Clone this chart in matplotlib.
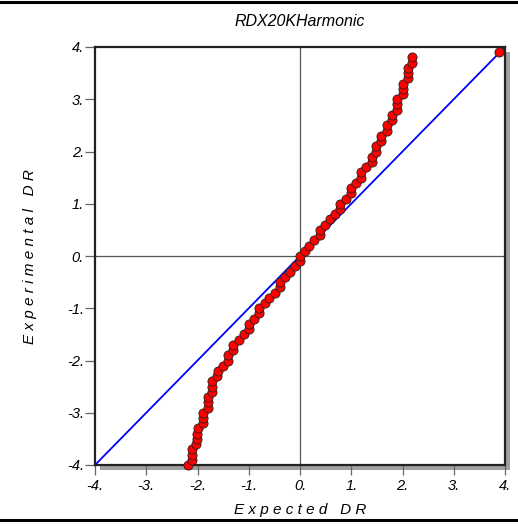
import matplotlib
matplotlib.use("Agg")
import matplotlib.pyplot as plt
from matplotlib.patches import Rectangle
from matplotlib.lines import Line2D

expected_dr = [-2.19, -2.10, -2.10, -2.10, -2.02, -2.01, -2.01, -2.00,
               -1.90, -1.90, -1.89, -1.80, -1.80, -1.80, -1.71, -1.71,
               -1.71, -1.61, -1.60, -1.50, -1.41, -1.41, -1.30, -1.30,
               -1.20, -1.10, -1.00, -1.00, -0.90, -0.80, -0.80, -0.69,
               -0.60, -0.49, -0.40, -0.40, -0.29, -0.19, -0.09, 0.00,
               0.00, 0.09, 0.18, 0.28, 0.39, 0.39, 0.49, 0.59,
               0.69, 0.79, 0.79, 0.90, 0.99, 0.99, 1.09, 1.19,
               1.19, 1.29, 1.40, 1.40, 1.49, 1.49, 1.59, 1.59,
               1.69, 1.69, 1.79, 1.79, 1.89, 1.89, 1.89, 2.00,
               2.00, 2.00, 2.10, 2.10, 2.10, 2.19, 2.19, 3.88]
experimental_dr = [-4.0, -3.9, -3.8, -3.7, -3.6, -3.5, -3.4, -3.3,
                   -3.2, -3.1, -3.0, -2.9, -2.8, -2.7, -2.6, -2.5,
                   -2.4, -2.3, -2.2, -2.1, -2.0, -1.9, -1.8, -1.7,
                   -1.6, -1.5, -1.4, -1.3, -1.2, -1.1, -1.0, -0.9,
                   -0.8, -0.7, -0.6, -0.5, -0.4, -0.3, -0.2, -0.1,
                   0.0, 0.1, 0.2, 0.3, 0.4, 0.5, 0.6, 0.7,
                   0.8, 0.9, 1.0, 1.1, 1.2, 1.3, 1.4, 1.5,
                   1.6, 1.7, 1.8, 1.9, 2.0, 2.1, 2.2, 2.3,
                   2.4, 2.5, 2.6, 2.7, 2.8, 2.9, 3.0, 3.1,
                   3.2, 3.3, 3.4, 3.5, 3.6, 3.7, 3.8, 3.9]

ref_line = [-4, 4]
ticks = [-4, -3, -2, -1, 0, 1, 2, 3, 4]
tick_labels = ["-4.", "-3.", "-2.", "-1.", "0.", "1.", "2.", "3.", "4."]

plt.rcParams['font.family'] = ['Liberation Sans', 'DejaVu Sans']

W, H = 518, 528
fig = plt.figure(figsize=(W / 100, H / 100), dpi=100)

# axes box in pixels
x0, x1, ytop, ybot = 95, 505, 47, 465
ax = fig.add_axes([x0 / W, 1 - ybot / H, (x1 - x0) / W, (ybot - ytop) / H])

# drop shadow behind the axes
fig.add_artist(Rectangle(((x0 + 5) / W, 1 - (ybot + 5) / H), (x1 - x0) / W, (ybot - ytop) / H,
                         transform=fig.transFigure, facecolor="#a0a0a0", edgecolor="none", zorder=0))
ax.set_zorder(1)

# black frame lines at top and bottom of the figure
fig.add_artist(Line2D([0, 1], [1 - 1.5 / H, 1 - 1.5 / H], color="black", lw=2.2))
fig.add_artist(Line2D([0, 1], [1 - 520 / H, 1 - 520 / H], color="black", lw=2.2))

ax.axhline(0, color="#555555", lw=0.9, zorder=1)
ax.axvline(0, color="#555555", lw=0.9, zorder=1)
ax.plot(ref_line, ref_line, color="#0000ff", lw=1.3, zorder=2)
ax.plot(expected_dr, experimental_dr, "o", color="red", markeredgecolor="#222222",
        markeredgewidth=0.6, markersize=6.6, zorder=3, clip_on=False)

ax.set_xlim(-4, 4)
ax.set_ylim(-4, 4)
ax.set_xticks(ticks)
ax.set_yticks(ticks)
ax.set_xticklabels(tick_labels, fontstyle="italic", fontsize=10.5)
ax.set_yticklabels(tick_labels, fontstyle="italic", fontsize=10.5)
ax.tick_params(axis="x", direction="out", length=7, width=0.9, color="#666666", pad=3)
ax.tick_params(axis="y", direction="out", length=7, width=0.9, color="#666666", pad=1)
for s in ax.spines.values():
    s.set_linewidth(1.6)
    s.set_color("#222222")

fig.text(300 / W, 1 - 22 / H, "RDX20KHarmonic", ha="center", va="center",
         fontstyle="italic", fontsize=11.5)
fig.text(300 / W, 1 - 510 / H, "E x p e c t e d   D R", ha="center", va="center",
         fontstyle="italic", fontsize=11)
fig.text(30 / W, 1 - 257 / H, "E x p e r i m e n t a l   D R", ha="center", va="center",
         rotation=90, fontstyle="italic", fontsize=11)

fig.savefig("out.png", dpi=100)
